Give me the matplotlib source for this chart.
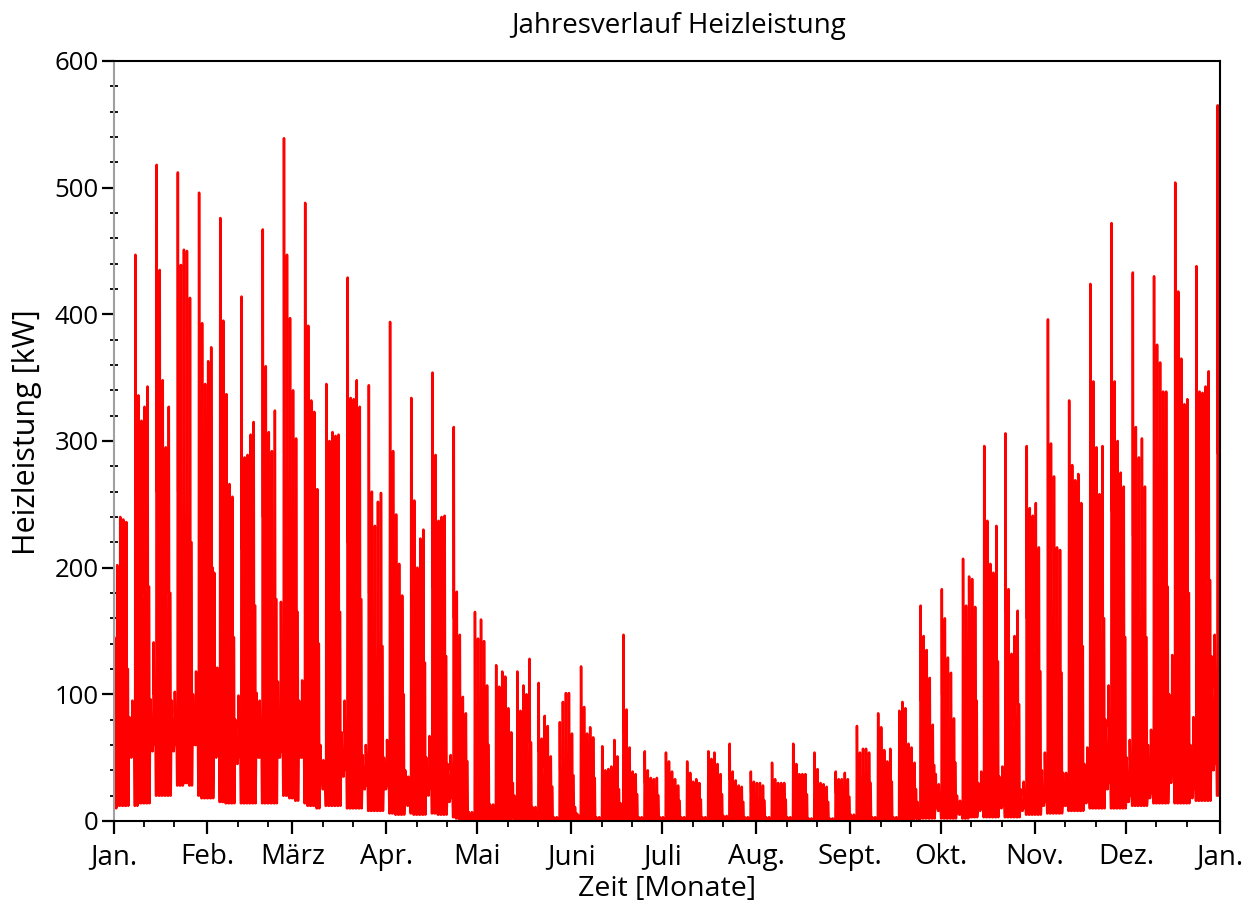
import numpy as np
import matplotlib
matplotlib.use("Agg")
import matplotlib.pyplot as plt

plt.rcParams['font.family'] = ['Open Sans', 'DejaVu Sans']

# Daily heating load profile (kW), one row per week (Mon..Sun)
peak = [
    145, 202, 240, 238, 236, 82, 95,
    447, 336, 316, 327, 343, 96, 141,
    518, 435, 348, 295, 327, 95, 102,
    512, 439, 451, 450, 413, 100, 118,
    496, 393, 345, 363, 374, 196, 121,
    476, 395, 337, 266, 256, 80, 99,
    414, 287, 289, 305, 315, 101, 95,
    467, 359, 307, 292, 324, 110, 173,
    539, 447, 397, 340, 302, 95, 111,
    488, 391, 332, 323, 262, 60, 48,
    345, 300, 307, 304, 305, 70, 95,
    429, 334, 333, 348, 327, 52, 60,
    344, 260, 233, 252, 259, 50, 64,
    394, 292, 242, 203, 178, 40, 35,
    334, 253, 200, 223, 230, 50, 67,
    354, 289, 237, 240, 241, 45, 52,
    311, 181, 147, 98, 85, 7, 7,
    165, 144, 159, 142, 107, 13, 13,
    123, 106, 118, 114, 89, 70, 20,
    118, 87, 107, 100, 128, 11, 11,
    109, 65, 83, 75, 51, 3, 3,
    78, 94, 101, 101, 69, 11, 5,
    122, 90, 69, 74, 66, 3, 3,
    59, 40, 41, 43, 64, 51, 14,
    147, 88, 58, 39, 37, 3, 3,
    55, 40, 34, 33, 34, 3, 3,
    54, 47, 39, 33, 28, 3, 3,
    47, 38, 31, 33, 30, 3, 3,
    55, 49, 54, 45, 37, 4, 4,
    61, 39, 32, 28, 27, 3, 3,
    39, 31, 30, 30, 28, 3, 3,
    46, 33, 30, 30, 30, 3, 3,
    61, 45, 37, 37, 37, 2, 2,
    54, 41, 30, 29, 27, 2, 2,
    39, 33, 33, 38, 33, 5, 5,
    75, 54, 57, 57, 54, 3, 3,
    85, 74, 56, 47, 57, 3, 3,
    87, 94, 89, 61, 58, 46, 15,
    170, 146, 135, 113, 76, 37, 29,
    183, 160, 129, 117, 81, 20, 16,
    207, 170, 193, 191, 169, 30, 39,
    296, 237, 203, 196, 233, 35, 43,
    306, 183, 132, 146, 166, 25, 31,
    296, 247, 241, 251, 216, 40, 54,
    396, 298, 272, 216, 214, 38, 38,
    332, 281, 269, 274, 251, 45, 58,
    424, 347, 295, 258, 296, 80, 107,
    472, 347, 300, 275, 264, 50, 64,
    433, 311, 287, 302, 264, 60, 72,
    430, 376, 362, 339, 339, 100, 131,
    504, 418, 365, 329, 333, 60, 82,
    438, 339, 338, 343, 355, 130, 147,
    565,
]

day_level = [
    80, 110, 125, 125, 120, 70, 75,
    230, 185, 175, 180, 185, 80, 100,
    260, 225, 190, 165, 180, 80, 85,
    260, 235, 240, 240, 220, 85, 90,
    250, 210, 190, 195, 200, 120, 90,
    240, 210, 180, 150, 145, 65, 75,
    215, 160, 160, 165, 170, 75, 75,
    240, 195, 170, 160, 175, 85, 115,
    270, 235, 210, 185, 165, 75, 85,
    245, 205, 175, 170, 140, 45, 38,
    185, 165, 165, 165, 165, 55, 70,
    220, 180, 180, 185, 175, 42, 48,
    180, 140, 128, 135, 138, 40, 50,
    200, 155, 130, 112, 100, 30, 28,
    175, 135, 110, 122, 125, 38, 50,
    185, 155, 130, 130, 130, 35, 40,
    160, 100, 80, 55, 47, 4, 4,
    90, 80, 86, 78, 60, 8, 8,
    62, 54, 58, 56, 45, 30, 10,
    60, 45, 54, 50, 62, 6, 6,
    55, 35, 42, 38, 27, 2, 2,
    40, 48, 52, 52, 36, 6, 3,
    60, 46, 36, 38, 34, 2, 2,
    32, 22, 23, 24, 34, 25, 8,
    70, 46, 32, 22, 21, 2, 2,
    30, 23, 20, 19, 20, 2, 2,
    30, 26, 22, 19, 16, 2, 2,
    26, 22, 18, 19, 17, 2, 2,
    30, 27, 30, 25, 21, 2, 2,
    33, 22, 18, 16, 15, 2, 2,
    22, 18, 17, 17, 16, 2, 2,
    26, 19, 17, 17, 17, 2, 2,
    33, 25, 21, 21, 21, 1, 1,
    30, 23, 17, 16, 15, 1, 1,
    22, 19, 19, 21, 19, 3, 3,
    40, 30, 31, 31, 30, 2, 2,
    45, 40, 31, 26, 31, 2, 2,
    46, 50, 47, 33, 31, 25, 8,
    95, 82, 76, 64, 44, 22, 18,
    100, 88, 72, 66, 46, 12, 10,
    112, 95, 105, 105, 95, 18, 24,
    160, 130, 112, 108, 126, 22, 28,
    165, 100, 74, 80, 92, 15, 20,
    160, 135, 132, 138, 118, 26, 35,
    205, 160, 148, 118, 117, 25, 25,
    175, 152, 146, 148, 138, 30, 38,
    220, 185, 160, 140, 160, 60, 75,
    245, 185, 165, 150, 145, 38, 48,
    225, 170, 158, 165, 145, 45, 55,
    225, 200, 195, 185, 185, 75, 95,
    260, 220, 195, 178, 180, 45, 60,
    230, 185, 182, 185, 190, 95, 105,
    290,
]

night_low = [
    10, 12, 12, 12, 12, 50, 55,
    12, 14, 14, 14, 14, 55, 60,
    20, 20, 20, 20, 20, 55, 60,
    28, 28, 30, 30, 28, 60, 60,
    20, 18, 18, 18, 18, 50, 55,
    15, 15, 14, 14, 14, 45, 50,
    14, 14, 14, 14, 14, 50, 50,
    14, 14, 14, 14, 14, 50, 55,
    20, 20, 18, 18, 16, 50, 50,
    14, 12, 12, 12, 10, 30, 25,
    12, 12, 12, 12, 12, 35, 40,
    10, 10, 10, 10, 10, 25, 28,
    8, 8, 8, 8, 8, 25, 28,
    6, 6, 5, 5, 5, 15, 12,
    6, 5, 5, 5, 5, 20, 25,
    6, 6, 5, 5, 5, 15, 18,
    3, 2, 1, 0, 0, 0, 0,
    1, 1, 1, 1, 1, 0, 0,
    1, 1, 1, 1, 1, 2, 1,
    1, 1, 1, 1, 1, 0, 0,
    1, 1, 1, 1, 1, 0, 0,
    1, 1, 1, 1, 1, 0, 0,
    1, 1, 1, 1, 1, 0, 0,
    1, 1, 1, 1, 1, 1, 0,
    1, 1, 1, 1, 1, 0, 0,
    0, 0, 0, 0, 0, 0, 0,
    0, 0, 0, 0, 0, 0, 0,
    0, 0, 0, 0, 0, 0, 0,
    0, 0, 0, 0, 0, 0, 0,
    0, 0, 0, 0, 0, 0, 0,
    0, 0, 0, 0, 0, 0, 0,
    0, 0, 0, 0, 0, 0, 0,
    0, 0, 0, 0, 0, 0, 0,
    0, 0, 0, 0, 0, 0, 0,
    0, 0, 0, 0, 0, 0, 0,
    1, 1, 1, 1, 1, 0, 0,
    1, 1, 1, 1, 1, 0, 0,
    1, 1, 1, 1, 1, 2, 1,
    2, 2, 2, 2, 2, 10, 8,
    2, 2, 2, 2, 2, 6, 5,
    2, 2, 3, 3, 3, 8, 10,
    3, 3, 3, 3, 3, 10, 12,
    3, 3, 3, 3, 3, 8, 10,
    5, 5, 5, 5, 5, 12, 15,
    6, 6, 6, 6, 6, 12, 12,
    8, 8, 8, 8, 8, 14, 18,
    10, 10, 10, 10, 10, 25, 30,
    10, 10, 10, 10, 10, 15, 20,
    12, 12, 12, 12, 12, 18, 22,
    14, 14, 14, 14, 14, 30, 40,
    14, 14, 14, 14, 14, 18, 25,
    16, 16, 16, 16, 16, 40, 45,
    20,
]

month_starts = [0, 31, 59, 90, 120, 151, 181, 212, 243, 273, 304, 334, 365]
month_labels = ["Jan.", "Feb.", "März", "Apr.", "Mai", "Juni", "Juli",
                "Aug.", "Sept.", "Okt.", "Nov.", "Dez.", "Jan."]

# Hour-of-day sampling of the daily profile: night, night, morning peak
# (two hours), day level, day level, late evening
hours = np.array([0, 3, 5, 6, 8, 18, 21]) / 24.0

P = np.asarray(peak, float)
D = np.asarray(day_level, float)
N = np.asarray(night_low, float)
days = np.arange(len(P))

t = (days[:, None] + hours[None, :]).ravel()
q = np.column_stack([N, N, P, P, D, D, N]).ravel()

fig = plt.figure(figsize=(12.57, 9.01), dpi=100)
ax = fig.add_axes([0.0903, 0.0888, 0.8803, 0.8435])

ax.plot(t, q, color="#ff0000", lw=1.8)

ax.set_xlim(0, 365)
ax.set_ylim(0, 600)

ax.set_xticks(month_starts)
ax.set_xticklabels(month_labels)
minor_x = [m + k for m in month_starts[:-1] for k in (10, 20)]
ax.set_xticks(minor_x, minor=True)
ax.set_yticks(np.arange(0, 601, 100))
ax.set_yticks(np.arange(0, 601, 20), minor=True)

ax.tick_params(axis="both", which="major", direction="out", length=9,
               width=1.6, color="black")
ax.tick_params(axis="x", which="major", pad=7, labelsize=20)
ax.tick_params(axis="y", which="major", pad=1.5, labelsize=18.5)
ax.tick_params(axis="x", which="minor", direction="out", length=4, width=1.3)
ax.tick_params(axis="y", which="minor", direction="inout", length=6, width=1.3)

for side in ("top", "right", "bottom"):
    ax.spines[side].set_color("black")
    ax.spines[side].set_linewidth(1.5)
ax.spines["left"].set_color("#a0a0a0")
ax.spines["left"].set_linewidth(1.5)

ax.set_title("Jahresverlauf Heizleistung", fontsize=20, pad=20, x=0.511)
ax.set_xlabel("Zeit [Monate]", fontsize=20.5, labelpad=3)
ax.set_ylabel("Heizleistung [kW]", fontsize=22, va="center")
ax.yaxis.set_label_coords(-0.078, 0.512)

fig.savefig("out.png", dpi=100)
